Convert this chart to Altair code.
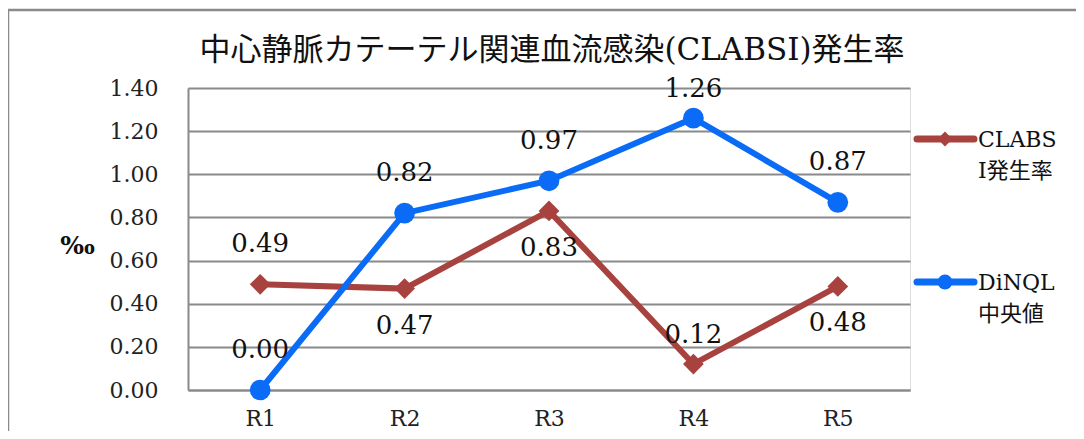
import altair as alt
import pandas as pd

# ---- data ----
categories = ["R1", "R2", "R3", "R4", "R5"]
series_names = ["CLABSI発生率", "DiNQL中央値"]
clabsi_values = [0.49, 0.47, 0.83, 0.12, 0.48]
dinql_values = [0.00, 0.82, 0.97, 1.26, 0.87]
clabsi_label_side = ["above", "below", "below", "near", "below"]
dinql_label_side = ["above", "above", "above", "near", "above"]
legend_lines = [["CLABS", "I発生率"], ["DiNQL", "中央値"]]
y_ticks = [0.0, 0.2, 0.4, 0.6, 0.8, 1.0, 1.2, 1.4]
title_text = "中心静脈カテーテル関連血流感染(CLABSI)発生率"
y_title = "‰"

# ---- styles ----
colors = ["#A8423F", "#0A6CF6"]
shapes = ["diamond", "circle"]
sizes = [430, 430]
side_dy = {"above": -40, "near": -29, "below": 37}
FONT = "'DejaVu Serif', 'Noto Sans CJK JP', serif"
GRID = "#8A8A8A"

rows = []
for name, vals, sides in [(series_names[0], clabsi_values, clabsi_label_side),
                          (series_names[1], dinql_values, dinql_label_side)]:
    for c, v, s in zip(categories, vals, sides):
        rows.append({"category": c, "value": v, "series": name, "side": s,
                     "label": f"{v:.2f}"})
df = pd.DataFrame(rows)

x_enc = alt.X("category:N", sort=categories,
              scale=alt.Scale(type="point", domain=categories, padding=0.5),
              axis=alt.Axis(title=None, labelAngle=0, grid=False, ticks=False,
                            labelPadding=18, labelFontSize=22, labelFont=FONT,
                            labelColor="#222", domainColor=GRID, domainWidth=2))
y_enc = alt.Y("value:Q",
              scale=alt.Scale(domain=[0, 1.4], nice=False, zero=True),
              axis=alt.Axis(values=y_ticks, format=".2f", ticks=False,
                            labelPadding=30, labelFontSize=22, labelFont=FONT,
                            labelColor="#222", grid=True, gridColor=GRID,
                            gridWidth=2, domainColor=GRID, domainWidth=2,
                            title=y_title, titleAngle=0, titleX=-111, titleY=157,
                            titleAlign="center", titleBaseline="middle",
                            titleFontSize=25, titleFontWeight="bold",
                            titleFont=FONT, titleColor="#111"))

base = alt.Chart(df)
one = pd.DataFrame({"a": [0]})
layers = []

# outer frame (decorative)
frame = alt.Chart(one).mark_rect(
    fill=None, stroke=GRID, strokeWidth=2.5
).encode(x=alt.value(-180), x2=alt.value(1000), y=alt.value(-78), y2=alt.value(600))
layers.append(frame)

# chart title as text
layers.append(alt.Chart(one).mark_text(
    text=title_text, font=FONT, fontSize=31, color="#111", align="center",
    baseline="alphabetic").encode(x=alt.value(364), y=alt.value(-28)))

for i, name in enumerate(series_names):
    sub = base.transform_filter(alt.datum.series == name)
    line = sub.mark_line(color=colors[i], strokeWidth=6).encode(x=x_enc, y=y_enc)
    pts = sub.mark_point(shape=shapes[i], size=sizes[i], filled=True,
                         color=colors[i], opacity=1).encode(x=x_enc, y=y_enc)
    layers += [line, pts]

for i, name in enumerate(series_names):
    sub = base.transform_filter(alt.datum.series == name)
    for side, dy in side_dy.items():
        layers.append(sub.transform_filter(alt.datum.side == side).mark_text(
            font=FONT, fontSize=26, color="#111", dy=dy, baseline="middle"
        ).encode(x=x_enc, y=y_enc, text="label:N"))

# manual legend
legend_y = [51, 194]
for i, name in enumerate(series_names):
    ly = legend_y[i]
    layers.append(alt.Chart(one).mark_rule(color=colors[i], strokeWidth=7, strokeCap="round").encode(
        x=alt.value(729), x2=alt.value(786), y=alt.value(ly), y2=alt.value(ly)))
    layers.append(alt.Chart(one).mark_point(shape=shapes[i], size=220, filled=True,
                                            color=colors[i], opacity=1).encode(
        x=alt.value(757), y=alt.value(ly)))
    layers.append(alt.Chart(one).mark_text(
        text=legend_lines[i], font=FONT, fontSize=22, color="#111", align="left",
        baseline="alphabetic", lineHeight=31).encode(x=alt.value(790), y=alt.value(ly + 8)))

chart = alt.layer(*layers).properties(
    width=722, height=302,
    autosize=alt.AutoSizeParams(type="none"),
    padding={"left": 180, "top": 80, "right": 166, "bottom": 41},
).configure_view(stroke=None).configure(background="white")

chart.save("out.html", embed_options={"renderer": "svg", "actions": False})
